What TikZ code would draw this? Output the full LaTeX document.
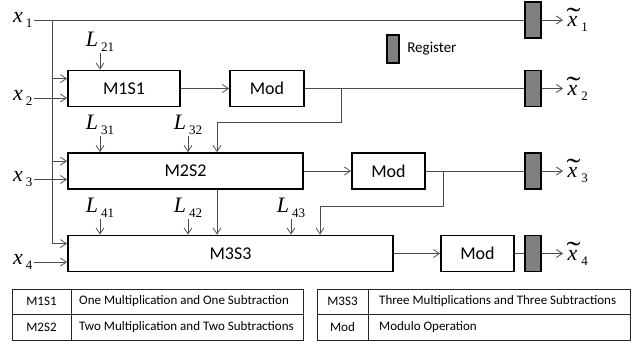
\documentclass[tikz,border=0pt]{standalone}
\usepackage{fontspec}
\setmainfont{Liberation Serif}
\setsansfont{Carlito}
\usetikzlibrary{arrows.meta}
\definecolor{wiregray}{RGB}{75,75,75}
\definecolor{regfill}{RGB}{128,128,128}
\newcommand{\varlab}[2]{\textit{#1}\hspace{3pt}\raisebox{-5pt}{\fontsize{13}{13}\selectfont #2}}
\newcommand{\tildex}{\makebox[0pt][l]{\hspace{-1pt}\raisebox{-1pt}{\scalebox{1.9}[1.3]{\char"02DC}}}\textit{x}}
\newcommand{\outlab}[1]{\tildex\hspace{4pt}\raisebox{-5pt}{\fontsize{13}{13}\selectfont #1}}
\tikzset{
  blk/.style={draw, line width=1.8pt, minimum height=36pt, inner sep=0pt, font=\sffamily\fontsize{18}{18}\selectfont},
  reg/.style={draw, fill=regfill, line width=1.6pt, minimum width=16pt, minimum height=36pt, inner sep=0pt},
  wire/.style={draw=wiregray, line width=0.8pt},
  arr/.style={wire, -{Straight Barb[length=6pt,width=8pt]}},
  lab/.style={font=\fontsize{22}{22}\selectfont, inner sep=1.5pt},
  tab/.style={draw=black!85, line width=0.9pt},
  cell/.style={font=\sffamily\fontsize{13}{13}\selectfont, inner sep=0pt},
}

\begin{document}
\begin{tikzpicture}[x=1pt,y=-1pt]
\useasboundingbox (0,0) rectangle (634,344);
% blocks
\node[blk, minimum width=112pt] (m1s1) at (124,88.5) {M1S1};
\node[blk, minimum width=74pt] (mod1) at (267,88.5) {Mod};
\node[blk, minimum width=235pt] (m2s2) at (185.5,171) {M2S2};
\node[blk, minimum width=73pt] (mod2) at (388.5,171) {Mod};
\node[blk, minimum width=325pt] (m3s3) at (230.5,253.5) {M3S3};
\node[blk, minimum width=73pt] (mod3) at (477.5,253.5) {Mod};
% registers
\node[reg] (reg1) at (533,20) {};
\node[reg] (reg2) at (533,88.5) {};
\node[reg] (reg3) at (533,171) {};
\node[reg] (reg4) at (533,253.5) {};
\node[reg, minimum width=12pt, minimum height=28pt] (regkey) at (393,49) {};
\node[anchor=west, font=\sffamily\fontsize{15}{15}\selectfont] (regtxt) at ([xshift=4pt]regkey.east) {Register};

% inputs
\node[lab, anchor=east] (x1) at (34,20) {\varlab{x}{1}};
\node[lab, anchor=east] (x2) at (34,98) {\varlab{x}{2}};
\node[lab, anchor=east] (x3) at (34,179.5) {\varlab{x}{3}};
\node[lab, anchor=east] (x4) at (34,262) {\varlab{x}{4}};
\coordinate (bus) at (52,0);
\coordinate (m1in) at ([yshift=-9pt]m1s1.north west);
\coordinate (m2in) at ([yshift=-9pt]m2s2.north west);
\coordinate (m3in) at ([yshift=-9pt]m3s3.north west);
\draw[wire] (x1.east) -- (reg1.west);
\draw[wire] (x1.east -| bus) -- (bus |- m3in);
\draw[arr] (bus |- m1in) -- (m1in);
\draw[arr] (bus |- m2in) -- (m2in);
\draw[arr] (bus |- m3in) -- (m3in);
\draw[arr] (x2.east) -- (x2.east -| m1s1.west);
\draw[arr] (x3.east) -- (x3.east -| m2s2.west);
\draw[arr] (x4.east) -- (x4.east -| m3s3.west);

% L inputs
\node[lab] (l21) at (100,42) {\varlab{L}{21}};
\node[lab] (l31) at (100,125) {\varlab{L}{31}};
\node[lab] (l32) at (188,125) {\varlab{L}{32}};
\node[lab] (l41) at (100,208) {\varlab{L}{41}};
\node[lab] (l42) at (188,208) {\varlab{L}{42}};
\node[lab] (l43) at (291,208) {\varlab{L}{43}};
\draw[arr] (l21.south) -- (l21.south |- m1s1.north);
\draw[arr] (l31.south) -- (l31.south |- m2s2.north);
\draw[arr] (l32.south) -- (l32.south |- m2s2.north);
\draw[arr] (l41.south) -- (l41.south |- m3s3.north);
\draw[arr] (l42.south) -- (l42.south |- m3s3.north);
\draw[arr] (l43.south) -- (l43.south |- m3s3.north);

% blocks to mod and registers
\draw[arr] (m1s1.east) -- (mod1.west);
\draw[arr] (m2s2.east) -- (mod2.west);
\draw[arr] (m3s3.east) -- (mod3.west);
\draw[wire] (mod1.east) -- (reg2.west);
\draw[wire] (mod2.east) -- (reg3.west);
\draw[wire] (mod3.east) -- (reg4.west);

% feedback
\coordinate (fb1) at (341,122);
\coordinate (fb2) at (443,206);
\coordinate (m2fb) at (217,0);
\coordinate (m3fb) at (320,0);
\draw[arr] (mod1.east -| fb1) -- (fb1) -| (m2fb |- m2s2.north);
\draw[arr] (m2fb |- m2s2.south) -- (m2fb |- m3s3.north);
\draw[arr] (mod2.east -| fb2) -- (fb2) -| (m3fb |- m3s3.north);

% outputs
\node[lab, anchor=west] (y1) at (566,20) {\outlab{1}};
\node[lab, anchor=west] (y2) at (566,88.5) {\outlab{2}};
\node[lab, anchor=west] (y3) at (566,171) {\outlab{3}};
\node[lab, anchor=west] (y4) at (566,253.5) {\outlab{4}};
\draw[arr] (reg1.east) -- ([xshift=-3pt]y1.west);
\draw[arr] (reg2.east) -- ([xshift=-3pt]y2.west);
\draw[arr] (reg3.east) -- ([xshift=-3pt]y3.west);
\draw[arr] (reg4.east) -- ([xshift=-3pt]y4.west);

% key tables
\draw[tab] (12,289) rectangle (303,340);
\draw[tab] (12,314) -- (303,314);
\draw[tab] (71,289) -- (71,340);
\draw[tab] (317,289) rectangle (630,340);
\draw[tab] (317,314) -- (630,314);
\draw[tab] (368,289) -- (368,340);
\node[cell] (k1) at (41.5,301.5) {M1S1};
\node[cell, anchor=west] (d1) at (79,301.5) {One Multiplication and One Subtraction};
\node[cell] (k2) at (41.5,327) {M2S2};
\node[cell, anchor=west] (d2) at (79,327) {Two Multiplication and Two Subtractions};
\node[cell] (k3) at (342.5,301.5) {M3S3};
\node[cell, anchor=west] (d3) at (379,301.5) {Three Multiplications and Three Subtractions};
\node[cell] (k4) at (342.5,327) {Mod};
\node[cell, anchor=west] (d4) at (379,327) {Modulo Operation};
\end{tikzpicture}
\end{document}
